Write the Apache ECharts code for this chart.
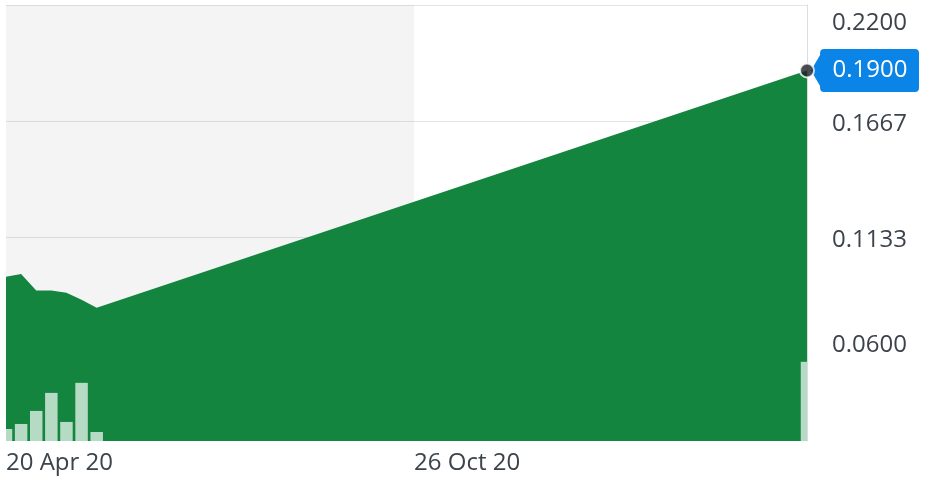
<!DOCTYPE html>
<html>
<head>
<meta charset="utf-8">
<script src="https://cdn.jsdelivr.net/npm/echarts@6/dist/echarts.min.js"></script>
<style>
html,body{margin:0;padding:0;background:#fff;}
#chart{width:930px;height:480px;}
</style>
</head>
<body>
<div id="chart"></div>
<script>
// ---- data ----
const dates = ['2020-04-20','2020-04-27','2020-05-04','2020-05-11','2020-05-18','2020-05-25','2020-06-01','2021-04-26'];
const prices = [0.0954, 0.0966, 0.0890, 0.0890, 0.0880, 0.0848, 0.0811, 0.1900];
const volumes = [12, 17, 30, 48, 19, 58, 9, 79];
const yTicks = [0.06, 0.1133, 0.1667, 0.22];
const xTicks = ['2020-04-20', '2020-10-26'];
const xTickLabels = ['20 Apr 20', '26 Oct 20'];
const shadeRange = ['2020-04-20', '2020-10-26'];

const FONT = 'Open Sans';
const LABEL_COLOR = '#3c434b';
const GREEN = '#13853f';
const BAR_W = 12.5;

const chart = echarts.init(document.getElementById('chart'), null, {renderer: 'canvas'});
const toTs = d => +new Date(d + 'T00:00:00Z');
const xTickTs = xTicks.map(toTs);

const option = {
  animation: false,
  grid: {left: 6, right: 123, top: 5, bottom: 39, containLabel: false, outerBoundsMode: 'none'},
  xAxis: {
    type: 'value',
    min: toTs(dates[0]),
    max: toTs(dates[dates.length - 1]),
    axisLine: {show: false},
    axisTick: {show: false, customValues: xTickTs},
    splitLine: {show: false},
    axisLabel: {
      customValues: xTickTs,
      formatter: v => { const i = xTickTs.indexOf(v); return i >= 0 ? xTickLabels[i] : ''; },
      align: 'left',
      margin: 10,
      fontFamily: FONT,
      fontSize: 24,
      color: LABEL_COLOR
    }
  },
  yAxis: [{
    type: 'value',
    position: 'right',
    min: 0.02,
    max: 0.22,
    axisLine: {show: true, lineStyle: {color: '#d9dde2', width: 1}},
    axisTick: {show: false, customValues: yTicks},
    splitLine: {show: true, lineStyle: {color: '#e2e4e7', width: 1}},
    axisLabel: {
      customValues: yTicks,
      margin: 25,
      align: 'left',
      formatter: v => {
        const t = v.toFixed(4);
        if (Math.abs(v - 0.22) < 1e-6) return '{s| }\n{a|' + t + '}';
        if (Math.abs(v - 0.06) < 1e-6) return '{a|' + t + '}\n{t| }';
        return '{a|' + t + '}';
      },
      rich: {
        a: {fontFamily: FONT, fontSize: 24, color: LABEL_COLOR, lineHeight: 30, padding: [6, 0, 0, 0]},
        s: {fontSize: 10, lineHeight: 30},
        t: {fontSize: 10, lineHeight: 24}
      }
    }
  }, {
    type: 'value',
    min: 0,
    max: 435,
    show: false
  }],
  series: [
    {
      type: 'line',
      z: 1,
      data: [[toTs(dates[0]), null]],
      symbol: 'none',
      markArea: {
        silent: true,
        itemStyle: {color: 'rgba(0,0,0,0.045)'},
        data: [[{xAxis: toTs(shadeRange[0])}, {xAxis: toTs(shadeRange[1])}]]
      }
    },
    {
      type: 'line',
      z: 2,
      data: dates.map((d, i) => [toTs(d), prices[i]]),
      symbol: 'none',
      connectNulls: true,
      lineStyle: {width: 0, color: GREEN},
      itemStyle: {color: GREEN},
      areaStyle: {color: GREEN, opacity: 1, origin: 'start'},
      markPoint: {
        silent: true,
        symbol: 'path://M0,21.5L9,6L9,4Q9,0 13,0L103,0Q107,0 107,4L107,39Q107,43 103,43L13,43Q9,43 9,39L9,37Z',
        symbolSize: [108, 43],
        symbolKeepAspect: false,
        symbolOffset: [58, 0],
        itemStyle: {color: '#0b84e8'},
        label: {
          show: true,
          position: 'inside',
          offset: [5, 0],
          formatter: p => p.value.toFixed(4),
          fontFamily: FONT,
          fontSize: 24,
          color: '#ffffff'
        },
        data: [{coord: [toTs(dates[dates.length - 1]), prices[prices.length - 1]], value: prices[prices.length - 1]}]
      }
    },
    {
      type: 'custom',
      z: 3,
      yAxisIndex: 1,
      coordinateSystem: 'cartesian2d',
      encode: {x: 0, y: 1},
      data: dates.map((d, i) => [toTs(d), volumes[i]]),
      renderItem: (params, api) => {
        const top = api.coord([api.value(0), api.value(1)]);
        const base = api.coord([api.value(0), 0]);
        const cs = params.coordSys;
        const rect = echarts.graphic.clipRectByRect(
          {x: top[0] - BAR_W / 2, y: top[1], width: BAR_W, height: base[1] - top[1]},
          {x: cs.x, y: cs.y, width: cs.width, height: cs.height}
        );
        return rect && {type: 'rect', shape: rect, style: {fill: '#b6dbc4'}};
      }
    },
    {
      type: 'scatter',
      z: 5,
      symbolSize: 14,
      itemStyle: {color: '#1b1f24', borderColor: '#ffffff', borderWidth: 2},
      data: [[toTs(dates[dates.length - 1]), prices[prices.length - 1]]]
    }
  ]
};
chart.setOption(option);
</script>
</body>
</html>
